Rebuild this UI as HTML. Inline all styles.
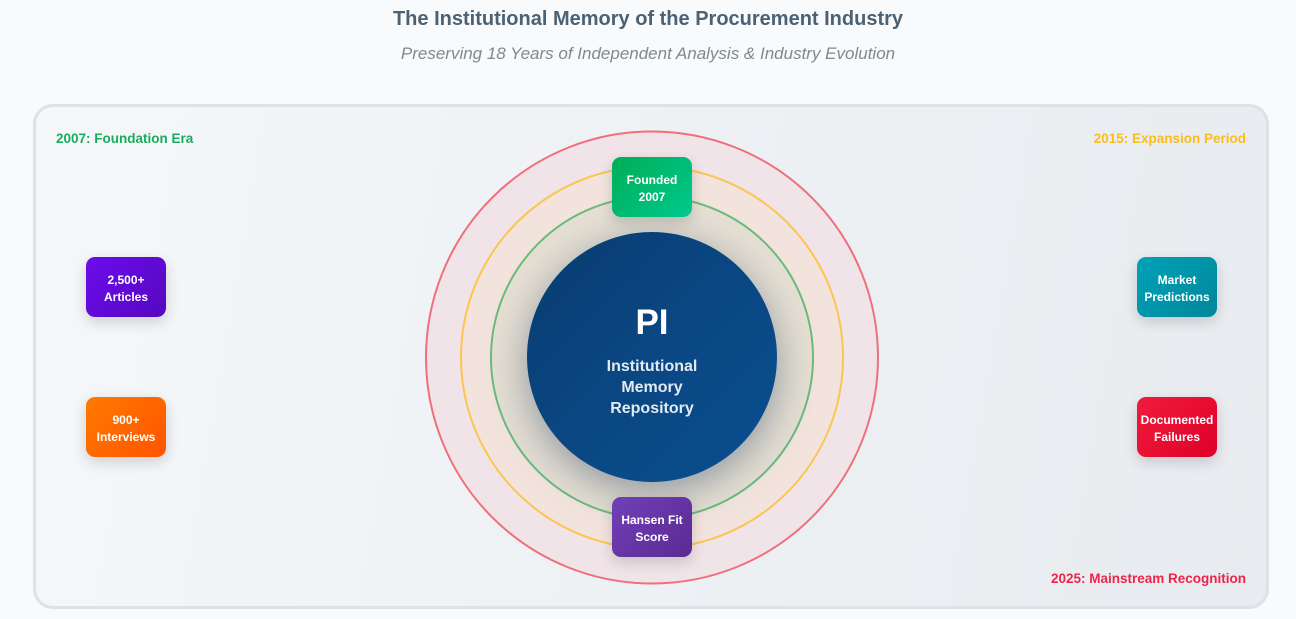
<!DOCTYPE html>
<html>
<head>
<meta charset="utf-8">
<style>
  html,body{margin:0;padding:0;}
  body{width:1296px;height:619px;background:#f8fafc;position:relative;overflow:hidden;font-family:"Liberation Sans",Arial,sans-serif;}
  .title{position:absolute;left:0;width:1296px;top:7px;text-align:center;font-size:20px;font-weight:bold;color:#4b6274;line-height:24px;}
  .sub{position:absolute;left:0;width:1296px;top:43px;text-align:center;font-size:17px;font-style:italic;color:#7d8a92;line-height:22px;}
  .panel{position:absolute;left:33px;top:104px;width:1230px;height:499px;border:3px solid #dde2e7;border-radius:20px;background:linear-gradient(100deg,#f5f7f9 0%,#eef1f4 50%,#e8ebef 100%);}
  svg.rings{position:absolute;left:0;top:0;}
  .core{position:absolute;left:527px;top:232px;width:250px;height:250px;border-radius:50%;background:linear-gradient(135deg,#083c70 0%,#0a4884 55%,#0a4f8f 100%);box-shadow:0 10px 40px rgba(20,45,80,0.42);}
  .pi{position:absolute;left:527px;width:250px;top:302px;text-align:center;color:#fff;font-weight:bold;font-size:35px;line-height:42px;}
  .coretxt{position:absolute;left:527px;width:250px;top:356px;text-align:center;color:#e3eaf2;font-weight:bold;font-size:16px;line-height:21px;}
  .box{position:absolute;width:80px;height:60px;box-sizing:border-box;padding-top:3px;border-radius:9px;color:#fff;font-weight:bold;font-size:12px;line-height:17px;display:flex;align-items:center;justify-content:center;text-align:center;box-shadow:0 5px 14px rgba(0,0,0,0.16);}
  .lbl{position:absolute;font-weight:bold;font-size:13.5px;line-height:16px;}
</style>
</head>
<body>
<div class="title">The Institutional Memory of the Procurement Industry</div>
<div class="sub">Preserving 18 Years of Independent Analysis &amp; Industry Evolution</div>

<div class="panel"></div>

<svg class="rings" width="1296" height="619" viewBox="0 0 1296 619">
  <circle cx="652" cy="357.5" r="226" fill="#f0e4e8" stroke="#ef6f7d" stroke-width="2"/>
  <circle cx="652" cy="357.5" r="191" fill="#f2e4dd" stroke="#fbc54f" stroke-width="2"/>
  <circle cx="652" cy="357.5" r="161" fill="#e6e0d4" stroke="#6cbb7c" stroke-width="2"/>
</svg>

<div class="core"></div>
<div class="pi">PI</div>
<div class="coretxt">Institutional<br>Memory<br>Repository</div>

<div class="box" style="left:612px;top:157px;background:linear-gradient(135deg,#00ad55,#00c98f);">Founded<br>2007</div>
<div class="box" style="left:612px;top:497px;background:linear-gradient(135deg,#7040b8,#5b2a92);">Hansen Fit<br>Score</div>

<div class="box" style="left:86px;top:257px;background:linear-gradient(135deg,#6c0cec,#5508bf);">2,500+<br>Articles</div>
<div class="box" style="left:86px;top:397px;background:linear-gradient(135deg,#ff7a00,#ff5400);">900+<br>Interviews</div>

<div class="box" style="left:1137px;top:257px;background:linear-gradient(135deg,#00a2b8,#00879a);">Market<br>Predictions</div>
<div class="box" style="left:1137px;top:397px;background:linear-gradient(135deg,#f01c3c,#df0028);">Documented<br>Failures</div>

<div class="lbl" style="left:56px;top:131px;color:#16ad5e;">2007: Foundation Era</div>
<div class="lbl" style="right:50px;top:131px;color:#fbbd1c;">2015: Expansion Period</div>
<div class="lbl" style="right:50px;top:571px;color:#ef2448;">2025: Mainstream Recognition</div>
</body>
</html>
